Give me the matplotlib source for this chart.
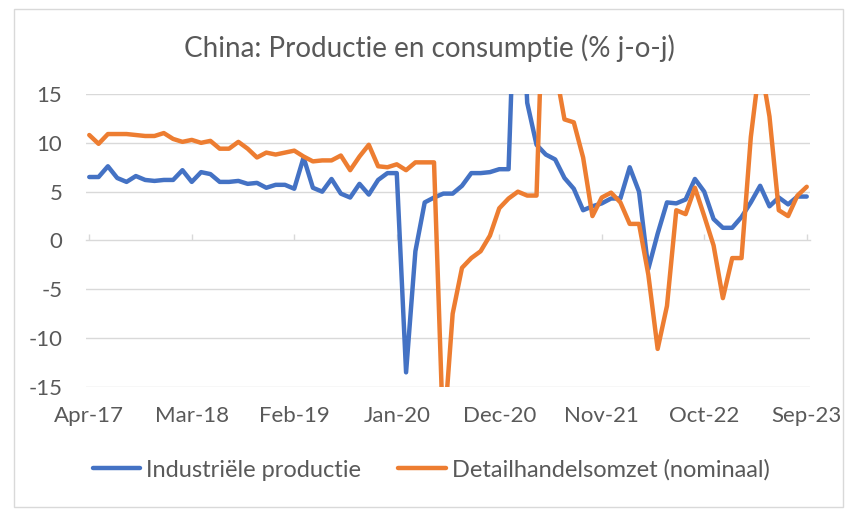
import numpy as np
import matplotlib
matplotlib.use("Agg")
import matplotlib.pyplot as plt
from matplotlib.patches import Rectangle

plt.rcParams['font.family'] = ['Lato', 'DejaVu Sans']
plt.rcParams['axes.unicode_minus'] = False

# monthly, Apr-17 .. Sep-23 (78 months)
tick_labels = ["Apr-17", "Mar-18", "Feb-19", "Jan-20", "Dec-20", "Nov-21", "Oct-22", "Sep-23"]

industrie = [6.5, 6.5, 7.6, 6.4, 6.0, 6.6, 6.2, 6.1, 6.2,
             6.2, 7.2, 6.0, 7.0, 6.8, 6.0, 6.0, 6.1, 5.8, 5.9, 5.4, 5.7,
             5.7, 5.3, 8.5, 5.4, 5.0, 6.3, 4.8, 4.4, 5.8, 4.7, 6.2, 6.9,
             6.9, -13.5, -1.1, 3.9, 4.4, 4.8, 4.8, 5.6, 6.9, 6.9, 7.0, 7.3,
             7.3, 35.1, 14.1, 9.8, 8.8, 8.3, 6.4, 5.3, 3.1, 3.5, 3.8, 4.3,
             4.3, 7.5, 5.0, -2.9, 0.7, 3.9, 3.8, 4.2, 6.3, 5.0, 2.2, 1.3,
             1.3, 2.4, 3.9, 5.6, 3.5, 4.4, 3.7, 4.5, 4.5]

detailhandel = [10.8, 9.9, 10.9, 10.9, 10.9, 10.8, 10.7, 10.7, 11.0,
                10.4, 10.1, 10.3, 10.0, 10.2, 9.4, 9.4, 10.1, 9.4, 8.5, 9.0, 8.8,
                9.0, 9.2, 8.6, 8.1, 8.2, 8.2, 8.7, 7.2, 8.6, 9.8, 7.6, 7.5,
                7.8, 7.2, 8.0, 8.0, 8.0, -20.5, -7.5, -2.8, -1.8, -1.1, 0.5, 3.3,
                4.3, 5.0, 4.6, 4.6, 33.8, 17.7, 12.4, 12.1, 8.5, 2.5, 4.4, 4.9,
                3.9, 1.7, 1.7, -3.5, -11.1, -6.7, 3.1, 2.7, 5.4, 2.5, -0.5, -5.9,
                -1.8, -1.8, 10.6, 18.4, 12.7, 3.1, 2.5, 4.6, 5.5]

x = np.arange(len(industrie))
grey_text = "#595959"
grid_col = "#d9d9d9"

fig = plt.figure(figsize=(8.58, 5.25), dpi=100)
ax = fig.add_axes([86/858, 1 - 387/525, (810 - 86)/858, (387 - 94)/525])

ax.plot(x, industrie, color="#4472C4", lw=3.2, solid_joinstyle="round",
        solid_capstyle="round", label="Industriële productie", zorder=3)
ax.plot(x, detailhandel, color="#ED7D31", lw=3.2, solid_joinstyle="round",
        solid_capstyle="round", label="Detailhandelsomzet (nominaal)", zorder=3)

ax.set_ylim(-15, 15)
ax.set_xlim(-0.35, 77.35)
ax.set_yticks([15, 10, 5, 0, -5, -10, -15])
for v in [15, 10, 5, -5, -10, -15]:
    ax.axhline(v, color=grid_col, lw=1.0, zorder=1)

for s in ax.spines.values():
    s.set_visible(False)

ax.set_xticks(x[::11])
ax.set_xticklabels(tick_labels)
ax.tick_params(axis="x", length=0, pad=14, labelsize=16, labelcolor=grey_text)
ax.tick_params(axis="y", length=0, pad=17, labelsize=16, labelcolor=grey_text)

# category axis at y = 0 with tick marks
sec = ax.secondary_xaxis(0.5)
sec.set_xticks(x[::11])
sec.set_xticklabels([])
sec.tick_params(axis="x", length=4.3, width=1.0, color=grid_col, direction="out")
for s in sec.spines.values():
    s.set_color(grid_col)
    s.set_linewidth(1.0)

fig.text(429.5/858, 1 - 48/525, "China: Productie en consumptie (% j-o-j)",
         ha="center", va="center", fontsize=20, color=grey_text)

fig.legend(loc="center", bbox_to_anchor=(431/858, 1 - 470/525), ncol=2,
           frameon=False, fontsize=17, labelcolor=grey_text,
           handlelength=2.0, handletextpad=0.25, columnspacing=1.6)

fig.patches.append(Rectangle((14/858, 1 - 507/525), (843 - 14)/858, (507 - 9)/525,
                             transform=fig.transFigure, fill=False,
                             edgecolor=grid_col, lw=1.0))

fig.savefig("out.png", dpi=100)
